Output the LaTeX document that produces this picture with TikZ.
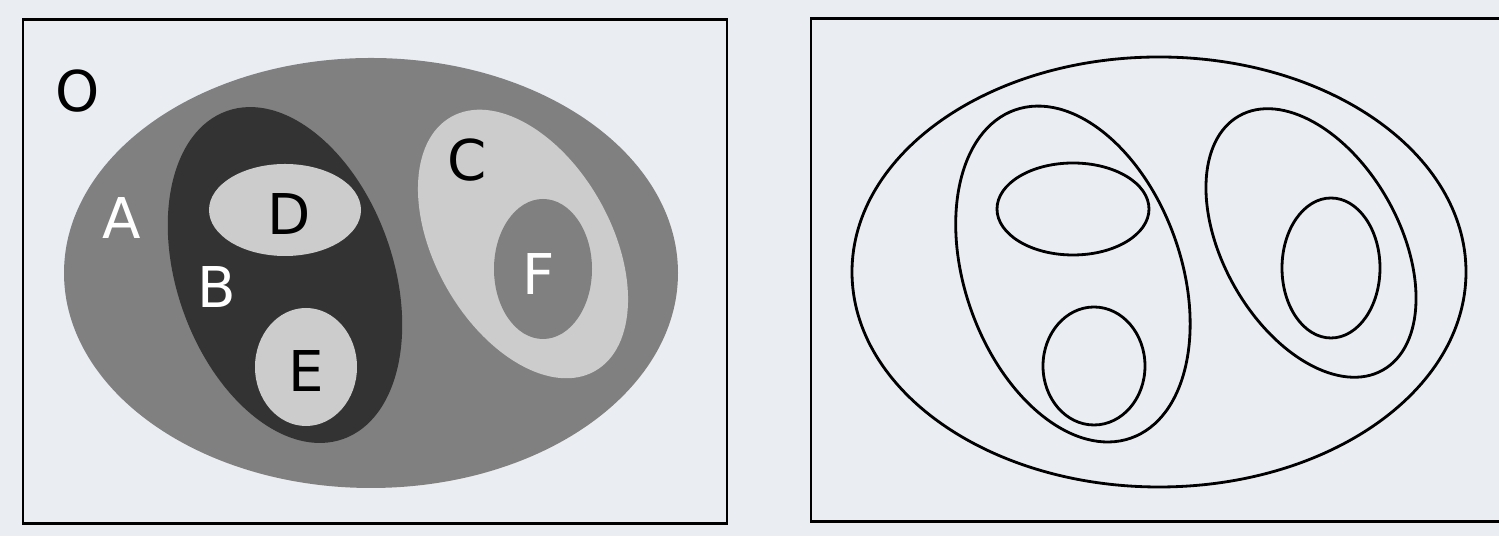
\documentclass[tikz,border=0pt]{standalone}
\usepackage{fontspec}
\setmainfont{DejaVu Sans}
\usepackage{tkz-euclide}
\definecolor{bgpaper}{HTML}{EAEDF2}
\definecolor{greyA}{HTML}{808080}
\definecolor{greyB}{HTML}{333333}
\definecolor{greyC}{HTML}{CCCCCC}
\tikzset{
  setlabel/.style={font=\fontsize{32}{38}\selectfont, inner sep=0pt},
  frame/.style={draw=black, line width=1.7pt},
  outline/.style={draw=black, line width=1.6pt},
}
\begin{document}
\begin{tikzpicture}[x=0.02cm, y=0.02cm]
        \clip (0,0) rectangle (1499,536);
        \fill[bgpaper] (0,0) rectangle (1499,536);
        \draw[frame] (23,12) rectangle (727,516);
        \draw[frame] (811,14) rectangle (1515,517);
        % filled sets on the left, the same outlines on the right
        \foreach \x/\y/\rx/\ry/\ang/\col in {371/263/307/215/0/greyA,
            285/261/108/174/19.5/greyB, 285/326/76/46/0/greyC,
            306/169/51/59/0/greyC, 523/292/88/146/29.5/greyC,
            543/267/49/70/0/greyA}{%
            \tkzDefPoint(\x,\y){M}
            \tkzDefPoint(\x+788,\y+1){N}
            \fill[\col, rotate around={\ang:(M)}] (M) ellipse [x radius=\rx, y radius=\ry];
            \draw[outline, rotate around={\ang:(N)}] (N) ellipse [x radius=\rx, y radius=\ry];}
        \foreach \name/\x/\y/\col in {O/78/445/black, A/122/318/white,
            B/217/249/white, C/467/376/black, D/289/322/black,
            E/306/165/black, F/539/262/white}{%
            \node[setlabel, text=\col] (lbl\name) at (\x,\y) {\name};}
    \end{tikzpicture}
\end{document}
